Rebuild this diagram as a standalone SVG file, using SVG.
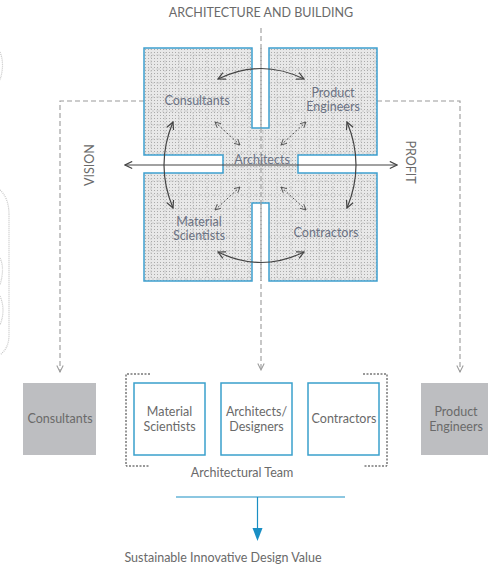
<svg xmlns="http://www.w3.org/2000/svg" width="488" height="570" viewBox="0 0 488 570">
<defs>
<style>
.t{font-family:Lato,"Open Sans","Liberation Sans",sans-serif;font-size:12.5px;fill:#6a6a6a;text-anchor:middle}
.q{fill:#6c7384}
.dash{fill:none;stroke:#9a9a9a;stroke-width:1.1;stroke-dasharray:5 3}
.arc{fill:none;stroke:#444;stroke-width:1.2;marker-start:url(#open);marker-end:url(#open)}
.diag{fill:none;stroke:#555;stroke-width:1;stroke-dasharray:2 2;marker-start:url(#small);marker-end:url(#small)}
.bbox{fill:#fff;stroke:#3aa0cc;stroke-width:1.5}
.gbox{fill:#bdbec1}
.brk{fill:none;stroke:#333;stroke-width:1;stroke-dasharray:2 1.5}
.faint{fill:none;stroke:#c4c4c4;stroke-width:1.2;stroke-dasharray:1 1}
</style>
<marker id="open" viewBox="0 0 10 10" refX="9" refY="5" markerWidth="9" markerHeight="9" markerUnits="userSpaceOnUse" orient="auto-start-reverse">
<path d="M1,1 L9,5 L1,9" fill="none" stroke="#444" stroke-width="1.3"/>
</marker>
<marker id="small" viewBox="0 0 10 10" refX="9" refY="5" markerWidth="7" markerHeight="7" markerUnits="userSpaceOnUse" orient="auto-start-reverse">
<path d="M1,1 L9,5 L1,9" fill="none" stroke="#555" stroke-width="1.3"/>
</marker>
<marker id="vee" viewBox="0 0 10 10" refX="9" refY="5" markerWidth="8" markerHeight="8" markerUnits="userSpaceOnUse" orient="auto">
<path d="M1,1 L9,5 L1,9" fill="none" stroke="#9a9a9a" stroke-width="1.3"/>
</marker>
<pattern id="dots" width="3" height="3" patternUnits="userSpaceOnUse">
<rect width="3" height="3" fill="#e8e8e8"/>
<rect x="1" y="1" width="1" height="1" fill="#aaaaaa"/>
</pattern>
<pattern id="grid" width="14" height="14" patternUnits="userSpaceOnUse" x="144" y="48">
<path d="M7,0 V14 M0,7 H14" stroke="#c4c4c4" stroke-width="0.8" stroke-dasharray="2 2" fill="none"/>
</pattern>
</defs>

<!-- faint remnants at the left edge -->
<g id="remnant">
<path class="faint" d="M0,190 Q9,198 9,215 V335 Q9,348 0,355"/>
<path class="faint" d="M0,258 Q5,268 0,285"/>
<path class="faint" d="M0,296 Q6,310 0,325"/>
<path class="faint" d="M0,52 Q5,64 0,80"/>
</g>

<text class="t" x="261" y="17" font-size="13.5">ARCHITECTURE AND BUILDING</text>

<g id="connectors">
<path class="dash" d="M261,28 V370" marker-end="url(#vee)"/>
<path class="dash" d="M144,101 H60 V372" marker-end="url(#vee)"/>
<path class="dash" d="M377,101 H460 V372" marker-end="url(#vee)"/>
</g>

<g id="hub">
<path d="M144,48 H252 V128 H269 V48 H377 V155 H298 V173 H377 V281 H269 V203 H252 V281 H144 V173 H223 V155 H144 Z" fill="url(#dots)"/>
<path d="M144,48 H252 V128 H269 V48 H377 V155 H298 V173 H377 V281 H269 V203 H252 V281 H144 V173 H223 V155 H144 Z" fill="url(#grid)" stroke="#3ea0cf" stroke-width="1.5"/>
<path class="dash" d="M261,48 V281" stroke="#8a8a8a"/>
</g>

<g id="inner-connectors">
<path class="arc" d="M218,79 Q261,58 304,79"/>
<path class="arc" d="M218,252 Q261,273 304,252"/>
<path class="arc" d="M173,122 Q155,165 173,208"/>
<path class="arc" d="M347,122 Q365,165 347,208"/>
<path class="diag" d="M215,122 L240,145"/>
<path class="diag" d="M306,122 L281,145"/>
<path class="diag" d="M240,187 L215,210"/>
<path class="diag" d="M281,187 L306,210"/>
<path d="M125,165 H397" stroke="#444" stroke-width="1.2" fill="none" marker-start="url(#open)" marker-end="url(#open)"/>
</g>

<g id="hub-labels">
<text class="t q" x="197" y="105">Consultants</text>
<text class="t q" x="333" y="97">Product</text>
<text class="t q" x="333" y="111">Engineers</text>
<text class="t q" x="262" y="164">Architects</text>
<text class="t q" x="199" y="226">Material</text>
<text class="t q" x="199" y="240">Scientists</text>
<text class="t q" x="326" y="237">Contractors</text>
</g>

<text class="t" transform="translate(94,165) rotate(-90)">VISION</text>
<text class="t" transform="translate(406,162) rotate(90)">PROFIT</text>

<g id="consultants">
<rect class="gbox" x="23" y="383" width="73" height="72"/>
<text class="t" x="60" y="423">Consultants</text>
</g>
<g id="team-bracket">
<path class="brk" d="M150,374 H126 V466 H150"/>
<path class="brk" d="M363,374 H387 V466 H363"/>
</g>
<g id="material-scientists">
<rect class="bbox" x="134" y="383" width="71" height="72"/>
<text class="t" x="169.5" y="416">Material</text>
<text class="t" x="169.5" y="431">Scientists</text>
</g>
<g id="architects-designers">
<rect class="bbox" x="221" y="383" width="71" height="72"/>
<text class="t" x="256.5" y="416">Architects/</text>
<text class="t" x="256.5" y="431">Designers</text>
</g>
<g id="contractors">
<rect class="bbox" x="308" y="383" width="71" height="72"/>
<text class="t" x="344" y="423">Contractors</text>
</g>
<g id="product-engineers">
<rect class="gbox" x="421" y="383" width="71" height="72"/>
<text class="t" x="456" y="416">Product</text>
<text class="t" x="456" y="431">Engineers</text>
</g>
<text class="t" x="242" y="477">Architectural Team</text>

<g id="value-connector">
<path d="M176,497 H345 M257.5,497 V530" stroke="#1a8fc4" stroke-width="1.2" fill="none"/>
<path d="M252.5,528 L262.5,528 L257.5,541 Z" fill="#1a8fc4"/>
</g>
<text class="t" x="223" y="562">Sustainable Innovative Design Value</text>
</svg>
